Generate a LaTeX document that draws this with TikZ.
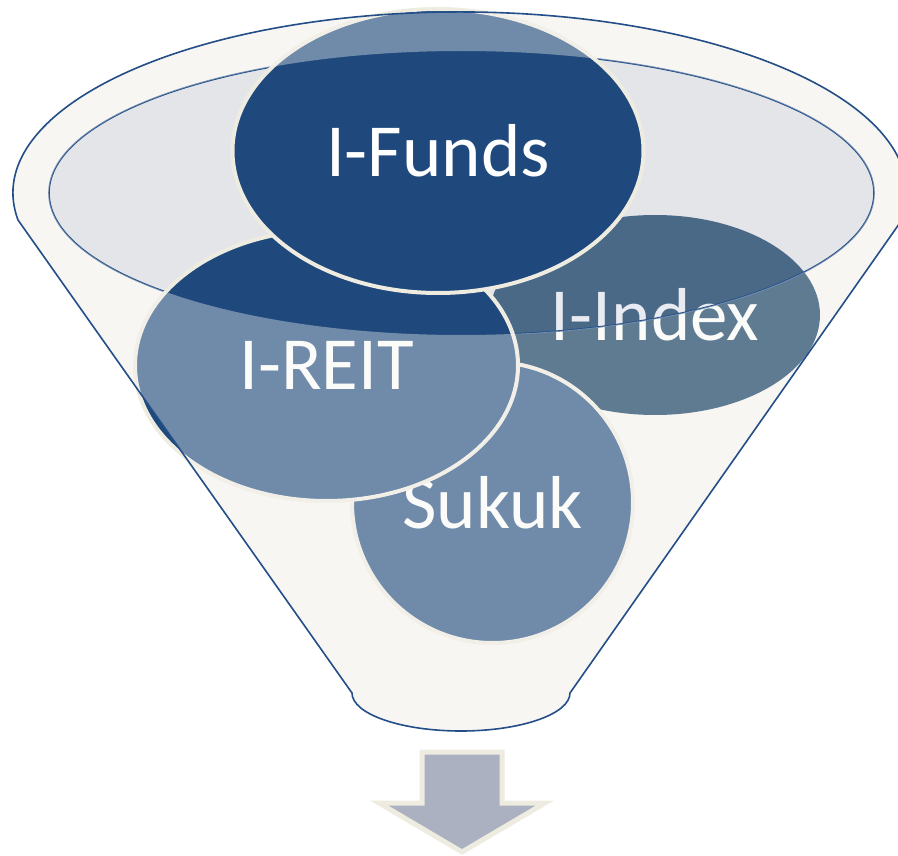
\documentclass[tikz,border=0pt]{standalone}
\usepackage{fontspec}
\setmainfont{Carlito}
\usetikzlibrary{shapes.geometric}

\definecolor{navy}{RGB}{31,73,125}
\definecolor{cream}{RGB}{247,246,242}
\definecolor{rim}{RGB}{238,236,225}
\definecolor{mist}{RGB}{195,201,218}
\definecolor{indexblue}{RGB}{4,49,87}
\definecolor{arrowgray}{RGB}{171,177,192}
\definecolor{outline}{RGB}{35,78,135}

\newcommand\funnelpath{(18,220) arc[start angle=171.4, end angle=368.6, x radius=447, y radius=181]
  -- (570,693) arc[start angle=0, end angle=180, x radius=109, y radius=38] -- cycle}
\newcommand\mouthpath{(461.5,193) ellipse [x radius=412.5, y radius=142]}

\begin{document}
\begin{tikzpicture}[
    x=1pt, y=-1pt,
    font=\fontsize{75}{80}\selectfont,
    blob/.style={
      ellipse,
      inner sep=0pt,
      fill=navy,
      draw=rim,
      line width=4pt,
      text=white
    },
    indexblob/.style={blob, draw=none, fill=indexblue},
    funnelline/.style={draw=outline, line width=1.6pt},
    arrowbox/.style={fill=arrowgray, draw=rim, line width=5pt, miter limit=10}
  ]
  \useasboundingbox (0,0) rectangle (898,856);

  % --- funnel body ---
  \fill[cream] \funnelpath;

  % --- behind the mouth ---
  \node[indexblob, minimum width=330pt, minimum height=200pt] (index) at (655,315) {I-Index};
  \fill[mist, fill opacity=0.37] \mouthpath;
  \draw[funnelline] \mouthpath;

  % --- in front ---
  \node[blob, minimum width=281pt, minimum height=281pt] (sukuk) at (492.5,502.5) {Sukuk};
  \node[blob, minimum width=383pt, minimum height=271pt] (reit) at (326.5,365.5) {I-REIT};
  \node[blob, minimum width=411pt, minimum height=284pt] (funds) at (438,151) {I-Funds};

  % --- funnel glass ---
  \fill[cream, fill opacity=0.375, even odd rule] \funnelpath \mouthpath;
  \draw[funnelline] \funnelpath;

  % --- output arrow ---
  \draw[arrowbox] (422,752) -- (502,752) -- (502,803) -- (545,803) -- (462,852)
    -- (379,803) -- (422,803) -- cycle;
\end{tikzpicture}
\end{document}
